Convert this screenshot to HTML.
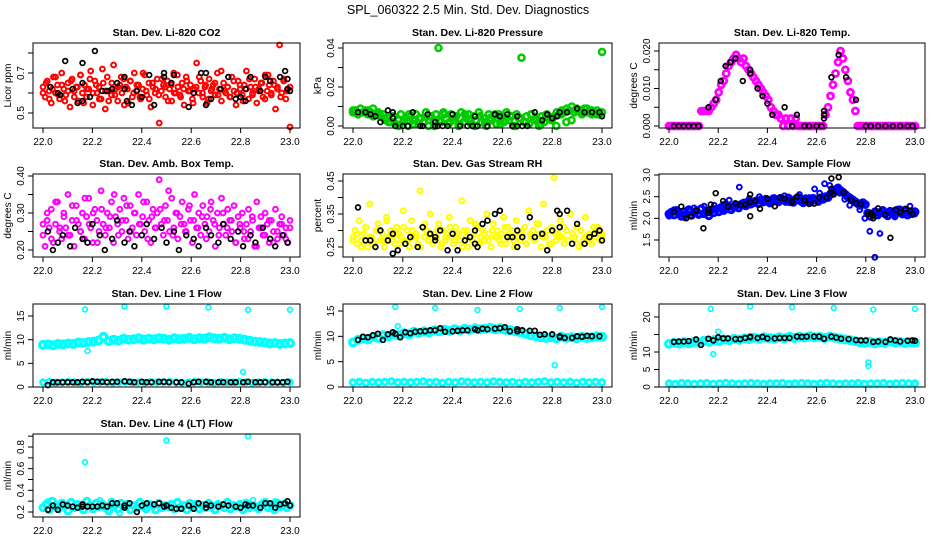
<!DOCTYPE html>
<html><head><meta charset="utf-8"><style>
html,body{margin:0;padding:0;background:#fff;}
svg{display:block;font-family:"Liberation Sans",sans-serif;}
</style></head><body>
<svg id="chart" width="936" height="540" viewBox="0 0 936 540" xmlns="http://www.w3.org/2000/svg">
<rect width="936" height="540" fill="#fff"/>
<text x="468" y="14" text-anchor="middle" font-size="12.5">SPL_060322  2.5 Min. Std. Dev. Diagnostics</text>
</svg>
<script>
// ---- data ----
const xTicks = [22.0, 22.2, 22.4, 22.6, 22.8, 23.0];
const xTickLabels = ["22.0", "22.2", "22.4", "22.6", "22.8", "23.0"];

const co2Red = [0.63,0.58,0.66,0.61,0.55,0.68,0.60,0.64,0.57,0.70,0.62,0.59,0.65,0.53,0.67,0.61,0.63,0.56,0.69,0.60,
0.64,0.58,0.62,0.71,0.54,0.66,0.60,0.63,0.57,0.65,0.52,0.68,0.61,0.59,0.74,0.62,0.56,0.64,0.60,0.67,
0.63,0.55,0.66,0.58,0.70,0.61,0.64,0.57,0.62,0.69,0.59,0.65,0.53,0.63,0.60,0.67,0.45,0.61,0.64,0.58,
0.66,0.62,0.56,0.70,0.60,0.63,0.59,0.65,0.54,0.68,0.61,0.64,0.57,0.62,0.75,0.60,0.66,0.58,0.63,0.55,
0.67,0.61,0.64,0.59,0.70,0.62,0.56,0.65,0.60,0.63,0.58,0.68,0.61,0.54,0.66,0.62,0.59,0.64,0.71,0.57,
0.63,0.60,0.67,0.55,0.62,0.65,0.58,0.69,0.61,0.64,0.59,0.66,0.52,0.63,0.84,0.60,0.67,0.57,0.62,0.43];
const co2Red2 = [0.60,0.65,0.57,0.62,0.68,0.59,0.64,0.56,0.61,0.66,0.58,0.63,0.69,0.55,0.62,0.67,0.60,0.64,0.57,0.72,
0.61,0.56,0.65,0.59,0.63,0.68,0.54,0.62,0.66,0.60,0.64,0.58,0.70,0.61,0.57,0.65,0.62,0.59,0.67,0.63,
0.56,0.64,0.60,0.69,0.58,0.62,0.66,0.61,0.55,0.63,0.68,0.60,0.64,0.57,0.62,0.65,0.59,0.71,0.61,0.63,
0.58,0.66,0.60,0.64,0.56,0.62,0.67,0.59,0.63,0.61,0.65,0.57,0.69,0.60,0.64,0.62,0.58,0.66,0.61,0.63];
const co2BlackX = [22.03,22.06,22.07,22.09,22.12,22.14,22.16,22.16,22.16,22.19,22.21,22.24,22.26,22.28,22.30,22.33,22.33,22.34,22.36,22.38,22.40,22.43,22.45,22.49,22.49,22.52,22.53,22.59,22.61,22.64,22.66,22.66,22.68,22.72,22.75,22.78,22.80,22.82,22.82,22.84,22.88,22.90,22.92,22.96,22.98,22.99,23.00,22.99];
const co2BlackY = [0.63,0.60,0.59,0.76,0.62,0.55,0.56,0.65,0.75,0.58,0.81,0.61,0.61,0.62,0.65,0.68,0.62,0.56,0.54,0.61,0.58,0.69,0.54,0.68,0.70,0.65,0.69,0.53,0.60,0.70,0.70,0.54,0.57,0.62,0.68,0.57,0.58,0.56,0.62,0.68,0.61,0.68,0.66,0.68,0.71,0.67,0.61,0.62];

const presGreen = [0.007,0.008,0.006,0.009,0.007,0.008,0.006,0.007,0.009,0.006,0.007,0.005,0.006,0.003,0.004,0.002,0.005,0.001,0.003,0.006,
0.002,0.004,0.000,0.005,0.003,0.006,0.001,0.004,0.002,0.007,0.000,0.005,0.003,0.006,0.040,0.002,0.007,0.004,0.001,0.006,
0.003,0.005,0.000,0.007,0.002,0.004,0.006,0.001,0.005,0.003,0.007,0.002,0.004,0.000,0.006,0.003,0.005,0.001,0.006,0.004,
0.002,0.007,0.003,0.005,0.000,0.006,0.004,0.035,0.002,0.005,0.001,0.006,0.003,0.004,0.000,0.005,0.002,0.006,0.004,0.003,
0.005,0.007,0.006,0.008,0.007,0.009,0.008,0.010,0.007,0.009,0.008,0.006,0.009,0.007,0.008,0.006,0.007,0.008,0.006,0.038];
const presGreen2 = [0.008,0.006,0.007,0.008,0.005,0.006,0.004,0.002,0.005,0.000,0.003,0.006,0.001,0.004,0.002,0.005,0.000,0.003,0.006,0.002,
0.004,0.001,0.006,0.003,0.000,0.005,0.002,0.004,0.006,0.001,0.003,0.005,0.000,0.004,0.002,0.006,0.003,0.001,0.005,0.004,
0.000,0.006,0.002,0.003,0.008,0.007,0.009,0.008,0.006,0.007];
const presBlackX = [22.02,22.05,22.07,22.09,22.11,22.14,22.16,22.16,22.17,22.20,22.22,22.24,22.27,22.28,22.30,22.33,22.33,22.34,22.36,22.38,22.40,22.43,22.46,22.48,22.49,22.50,22.54,22.57,22.59,22.62,22.64,22.66,22.66,22.68,22.70,22.73,22.76,22.78,22.80,22.82,22.83,22.86,22.90,22.93,22.96,22.99,23.00];
const presBlackY = [0.007,0.007,0.006,0.005,0.002,0.008,0.007,0.004,0.000,0.000,0.000,0.007,0.000,0.000,0.006,0.002,0.000,0.000,0.000,0.000,0.006,0.000,0.000,0.000,0.005,0.000,0.000,0.006,0.005,0.006,0.000,0.005,0.000,0.000,0.000,0.007,0.003,0.006,0.004,0.005,0.007,0.007,0.009,0.007,0.007,0.007,0.005];

const tempMag = [0,0,0,0,0,0,0,0,0,0,0,0,0,
0.004,0.004,0.004,0.004,0.005,
0.006,0.007,0.009,0.011,0.012,
0.014,0.016,0.017,0.018,0.019,0.018,
0.017,0.018,0.016,0.015,0.014,0.013,
0.012,0.011,0.010,0.009,0.008,0.007,
0.005,0.004,0.003,0.003,0.002,
0,0.002,0,0.002,0,0.002,0,0,0,0,0,0,0,0,0,0,0,
0.003,0.005,0.008,0.011,
0.014,0.017,0.020,0.018,
0.015,0.012,0.009,0.007,0.004,
0,0,0,0,0,0,0,0,0,0,0,0,0,0,0,0,0,0,0,0,0,0,0,0];
const tempBlackX = [22.02,22.04,22.06,22.08,22.10,22.12,22.16,22.19,22.21,22.23,22.25,22.27,22.30,22.33,22.33,22.36,22.38,22.40,22.42,22.47,22.52,22.50,22.55,22.57,22.60,22.62,22.63,22.63,22.63,22.66,22.69,22.72,22.76,22.80,22.82,22.85,22.88,22.91,22.94,22.97,22.99];
const tempBlackY = [0,0,0,0,0,0,0.005,0.007,0.012,0.016,0.017,0.018,0.012,0.015,0.014,0.010,0.008,0.006,0.003,0.005,0.003,0,0,0,0,0,0.004,0.002,0.003,0.013,0.019,0.013,0.007,0,0,0,0,0,0,0,0];

const ambMag = [0.24,0.21,0.28,0.26,0.31,0.22,0.27,0.33,0.25,0.23,0.30,0.26,0.35,0.24,0.28,0.21,0.32,0.27,0.25,0.30,
0.23,0.29,0.34,0.26,0.22,0.31,0.28,0.25,0.36,0.27,0.24,0.30,0.26,0.33,0.22,0.29,0.27,0.31,0.25,0.34,
0.28,0.23,0.32,0.26,0.30,0.24,0.35,0.27,0.29,0.25,0.33,0.28,0.22,0.31,0.26,0.30,0.39,0.27,0.24,0.32,
0.28,0.25,0.34,0.26,0.30,0.23,0.29,0.33,0.27,0.25,0.31,0.28,0.22,0.35,0.26,0.30,0.24,0.32,0.27,0.29,
0.25,0.33,0.28,0.21,0.30,0.26,0.34,0.27,0.24,0.31,0.28,0.25,0.32,0.22,0.29,0.26,0.30,0.23,0.27,0.31,
0.25,0.28,0.21,0.33,0.26,0.29,0.24,0.30,0.27,0.22,0.28,0.25,0.31,0.23,0.27,0.29,0.24,0.26,0.22,0.28];
const ambMag2 = [0.27,0.30,0.23,0.33,0.26,0.29,0.24,0.32,0.28,0.25,0.34,0.27,0.30,0.22,0.31,0.26,0.29,0.35,0.24,0.28,
0.32,0.25,0.30,0.27,0.33,0.23,0.29,0.26,0.31,0.28,0.36,0.24,0.30,0.27,0.25,0.32,0.28,0.26,0.29,0.23,
0.31,0.27,0.24,0.30,0.26,0.28,0.22,0.27,0.25,0.23,0.29,0.21,0.26,0.24,0.28,0.22,0.25,0.27,0.23,0.26];
const ambBlackX = [22.02,22.04,22.06,22.08,22.11,22.13,22.16,22.18,22.20,22.23,22.25,22.28,22.30,22.33,22.35,22.37,22.40,22.42,22.45,22.48,22.50,22.53,22.55,22.58,22.61,22.63,22.66,22.68,22.71,22.73,22.76,22.79,22.81,22.84,22.86,22.89,22.92,22.94,22.97,22.99];
const ambBlackY = [0.25,0.20,0.22,0.24,0.21,0.26,0.23,0.22,0.27,0.24,0.20,0.23,0.28,0.22,0.25,0.21,0.24,0.27,0.23,0.26,0.22,0.25,0.20,0.24,0.23,0.21,0.26,0.24,0.22,0.27,0.23,0.25,0.21,0.24,0.22,0.26,0.23,0.21,0.24,0.22];

const rhYellow = [0.28,0.30,0.26,0.33,0.27,0.29,0.31,0.25,0.38,0.28,0.26,0.30,0.32,0.27,0.29,0.25,0.34,0.28,0.30,0.27,
0.26,0.31,0.29,0.28,0.36,0.27,0.30,0.25,0.33,0.28,0.29,0.26,0.42,0.31,0.28,0.30,0.27,0.35,0.26,0.29,
0.28,0.32,0.25,0.30,0.27,0.29,0.34,0.28,0.26,0.31,0.29,0.27,0.39,0.30,0.28,0.25,0.33,0.27,0.29,0.31,
0.26,0.28,0.30,0.27,0.35,0.29,0.25,0.32,0.28,0.30,0.27,0.29,0.34,0.26,0.31,0.28,0.30,0.25,0.33,0.28,
0.27,0.29,0.31,0.26,0.36,0.28,0.30,0.27,0.32,0.29,0.25,0.38,0.28,0.30,0.26,0.31,0.46,0.27,0.29,0.33,
0.28,0.26,0.30,0.27,0.35,0.29,0.28,0.31,0.25,0.30,0.27,0.34,0.28,0.29,0.26,0.31,0.28,0.30,0.27,0.29];
const rhYellow2 = [0.27,0.29,0.25,0.31,0.28,0.26,0.30,0.27,0.33,0.28,0.29,0.26,0.31,0.27,0.30,0.28,0.25,0.32,0.29,0.27,
0.30,0.26,0.28,0.31,0.27,0.29,0.25,0.30,0.28,0.32,0.26,0.29,0.27,0.30,0.28,0.26,0.31,0.29,0.27,0.28,
0.30,0.26,0.29,0.27,0.32,0.28,0.30,0.26,0.29,0.28,0.31,0.27,0.29,0.26,0.30,0.28,0.27,0.29,0.31,0.28];
const rhBlackX = [22.02,22.05,22.07,22.09,22.11,22.14,22.16,22.16,22.18,22.21,22.23,22.26,22.28,22.31,22.33,22.33,22.35,22.38,22.40,22.42,22.45,22.47,22.49,22.49,22.50,22.52,22.54,22.57,22.59,22.62,22.64,22.66,22.66,22.68,22.71,22.73,22.76,22.78,22.80,22.82,22.83,22.83,22.86,22.88,22.90,22.93,22.95,22.97,22.99,23.00,22.99];
const rhBlackY = [0.37,0.27,0.27,0.25,0.30,0.27,0.23,0.29,0.24,0.26,0.28,0.25,0.31,0.29,0.28,0.27,0.30,0.24,0.29,0.24,0.27,0.28,0.30,0.26,0.25,0.32,0.33,0.35,0.36,0.28,0.28,0.30,0.25,0.28,0.34,0.28,0.29,0.24,0.30,0.36,0.31,0.35,0.36,0.26,0.32,0.26,0.28,0.29,0.30,0.27,0.30];

const flowBlue = [2.10,2.14,2.08,2.18,2.12,2.05,2.15,2.10,2.20,2.07,2.13,2.17,2.09,2.22,2.11,2.16,2.06,2.19,2.13,2.21,
2.15,2.25,2.18,2.22,2.28,2.20,2.26,2.30,2.24,2.32,2.35,2.29,2.38,2.33,2.36,2.40,2.34,2.42,2.38,2.44,
2.40,2.36,2.45,2.41,2.38,2.46,2.43,2.39,2.47,2.42,2.37,2.44,2.48,2.40,2.36,2.45,2.41,2.38,2.46,2.43,
2.39,2.47,2.44,2.50,2.48,2.56,2.62,2.66,2.70,2.64,2.60,2.55,2.50,2.46,2.42,2.38,2.34,2.30,2.36,2.32,
2.12,2.05,2.10,2.15,2.08,2.13,2.18,2.11,2.06,2.16,2.12,2.09,2.19,2.14,2.10,2.17,2.08,2.13,2.11,2.15];
const flowBlue2 = [2.05,2.20,2.12,2.02,2.16,2.24,2.10,2.28,2.14,2.30,2.22,2.33,2.42,2.30,2.72,2.38,2.46,2.35,2.50,2.44,
2.33,2.48,2.40,2.52,2.36,2.45,2.55,2.40,2.48,2.68,2.58,2.80,2.76,2.68,2.58,2.44,2.30,2.40,2.20,2.00,
1.70,1.10,1.65,2.08,2.18,2.03,2.22,2.12,2.28,2.10];
const flowBlackX = [22.02,22.05,22.07,22.09,22.11,22.14,22.16,22.16,22.17,22.19,22.22,22.24,22.27,22.29,22.31,22.33,22.33,22.33,22.35,22.37,22.40,22.43,22.45,22.47,22.50,22.50,22.52,22.55,22.57,22.59,22.61,22.64,22.66,22.66,22.66,22.67,22.69,22.71,22.74,22.76,22.78,22.81,22.82,22.83,22.83,22.85,22.88,22.90,22.92,22.94,22.96,22.98,22.99];
const flowBlackY = [2.15,2.27,2.00,2.05,2.18,1.77,2.12,2.20,2.32,2.58,2.40,2.27,2.35,2.30,2.32,2.38,2.55,2.05,2.40,2.22,2.45,2.28,2.48,2.45,2.40,2.38,2.50,2.42,2.33,2.34,2.48,2.48,2.60,2.68,2.92,2.55,2.95,2.60,2.43,2.35,2.33,2.10,2.12,2.00,2.06,2.23,2.08,1.55,2.20,2.14,2.22,2.18,2.10];

const line1High = [8.9,9.0,8.8,9.1,9.0,9.2,9.1,9.4,9.3,9.5,9.6,9.8,10.6,9.7,10.0,9.8,10.2,10.0,10.1,10.3,
10.0,10.2,10.1,10.3,10.2,10.0,10.3,10.1,10.2,10.4,10.1,10.3,10.2,10.5,10.3,10.2,10.4,10.1,10.3,10.2,
10.0,9.8,9.6,9.5,9.4,9.2,9.3,9.1,9.2,9.3];
const line1Low = [1.0,1.1,0.9,1.0,1.1,1.0,0.9,1.1,1.0,1.0,1.1,0.9,1.0,1.1,1.0,1.0,0.9,1.1,1.0,1.0,
1.1,1.0,0.9,1.0,1.1,1.0,1.0,0.9,1.1,1.0,1.0,1.1,1.0,0.9,1.0,1.1,1.0,1.0,0.9,1.0];
const line1OutX = [22.17,22.18,22.33,22.50,22.67,22.83,22.81,23.00];
const line1OutY = [16.4,7.6,17.0,17.0,16.8,16.3,3.2,16.3];
const line1BlackX = [22.02,22.04,22.06,22.08,22.10,22.12,22.14,22.16,22.18,22.20,22.22,22.24,22.26,22.28,22.30,22.33,22.35,22.37,22.40,22.42,22.44,22.47,22.49,22.51,22.54,22.56,22.59,22.61,22.63,22.66,22.68,22.71,22.73,22.76,22.78,22.81,22.83,22.86,22.88,22.90,22.93,22.95,22.97,22.99];
const line1BlackY = [0.4,1.0,1.0,1.0,1.0,1.0,1.0,1.1,1.0,1.2,1.1,1.1,1.0,1.1,1.1,1.2,1.1,1.0,1.1,1.0,1.0,1.1,1.1,1.0,1.0,1.0,0.7,1.0,1.1,1.1,1.0,1.0,1.0,1.0,1.0,1.0,1.1,1.0,1.0,1.0,1.0,1.0,1.0,1.1];

const line2High = [8.8,9.3,9.6,9.4,9.9,9.7,10.2,10.0,10.4,10.2,10.6,10.4,10.9,10.7,11.0,10.8,11.2,11.0,11.3,11.1,
11.4,11.2,11.5,11.3,11.6,11.4,11.5,11.7,11.4,11.6,11.3,11.2,11.0,10.8,10.5,10.2,10.0,9.8,9.7,9.8,
9.6,9.9,9.7,9.8,9.6,9.9,9.7,9.8,10.0,9.9];
const line2Low = [0.9,1.0,0.8,1.0,0.9,1.0,1.1,0.9,1.0,0.9,1.0,1.1,0.9,1.0,0.8,1.0,0.9,1.1,1.0,0.9,
1.0,0.9,1.1,1.0,0.9,1.0,0.8,1.0,0.9,1.0,1.1,0.9,1.0,0.9,1.0,0.8,1.0,0.9,1.0,0.9];
const line2OutX = [22.17,22.18,22.33,22.50,22.67,22.81,22.83,23.00];
const line2OutY = [15.8,12.0,15.6,15.2,15.4,4.3,15.6,15.8];
const line2BlackX = [22.02,22.04,22.06,22.08,22.10,22.12,22.14,22.16,22.17,22.19,22.21,22.23,22.25,22.27,22.29,22.31,22.33,22.35,22.37,22.40,22.42,22.44,22.46,22.49,22.50,22.52,22.54,22.57,22.59,22.61,22.63,22.66,22.66,22.68,22.71,22.73,22.75,22.77,22.80,22.83,22.83,22.85,22.88,22.90,22.92,22.94,22.96,22.99];
const line2BlackY = [9.3,9.9,9.8,10.2,10.5,9.3,10.4,10.8,10.5,9.8,10.8,10.6,10.9,11.0,11.0,11.2,11.2,11.6,10.9,11.0,11.1,11.2,11.2,11.4,11.2,11.5,11.4,11.5,11.6,11.8,11.0,11.4,11.0,11.2,11.1,11.1,10.3,10.4,10.4,9.8,10.0,9.7,9.7,10.0,9.9,10.1,10.0,10.0];

const line3High = [12.3,12.6,12.4,12.8,12.5,12.9,12.7,13.2,12.9,13.4,13.1,13.6,13.3,13.8,13.5,13.9,13.7,14.1,13.8,14.2,
14.0,13.8,14.2,13.9,14.3,14.0,14.4,14.1,14.5,14.2,14.3,14.0,14.4,14.1,13.8,13.6,13.4,13.1,12.8,12.6,
12.9,12.5,12.8,12.6,13.0,12.7,12.9,12.6,12.8,12.7];
const line3Low = [1.0,0.9,1.1,1.0,0.9,1.0,1.1,0.9,1.0,1.1,1.0,0.9,1.0,1.1,1.0,0.9,1.0,1.0,1.1,0.9,
1.0,1.1,1.0,0.9,1.0,1.1,1.0,0.9,1.0,1.0,1.1,0.9,1.0,1.0,1.1,0.9,1.0,1.1,1.0,1.0];
const line3OutX = [22.17,22.18,22.20,22.33,22.50,22.67,22.81,22.81,22.83,23.00];
const line3OutY = [22.3,9.4,15.8,23.0,22.8,22.6,6.0,7.0,22.1,22.3];
const line3BlackX = [22.02,22.04,22.06,22.08,22.11,22.13,22.16,22.18,22.20,22.22,22.24,22.27,22.29,22.31,22.33,22.33,22.36,22.38,22.40,22.43,22.45,22.47,22.49,22.52,22.54,22.56,22.59,22.61,22.63,22.66,22.68,22.70,22.73,22.76,22.78,22.80,22.83,22.85,22.88,22.90,22.92,22.94,22.97,22.99,23.00];
const line3BlackY = [12.9,13.0,13.0,13.1,13.6,12.0,13.8,13.3,14.2,13.9,13.9,13.7,13.7,14.0,14.4,14.2,14.0,14.3,13.9,13.9,14.0,14.0,14.0,14.4,14.3,14.4,14.4,14.4,13.8,14.4,14.1,13.8,13.7,13.4,13.3,13.3,12.9,13.0,12.9,13.6,13.3,13.0,13.2,13.3,13.2];

const line4Cyan = [0.24,0.27,0.22,0.30,0.25,0.23,0.28,0.26,0.21,0.29,0.24,0.27,0.25,0.22,0.30,0.26,0.23,0.28,0.25,0.27,
0.24,0.21,0.29,0.26,0.23,0.28,0.25,0.27,0.22,0.26,0.24,0.29,0.25,0.23,0.27,0.26,0.22,0.28,0.24,0.26,
0.25,0.27,0.23,0.29,0.24,0.26,0.22,0.28,0.25,0.27,0.23,0.26,0.24,0.28,0.25,0.22,0.27,0.26,0.24,0.29,
0.23,0.26,0.25,0.27,0.22,0.28,0.24,0.26,0.25,0.23,0.27,0.29,0.24,0.26,0.22,0.28,0.25,0.27,0.24,0.26];
const line4OutX = [22.02,22.17,22.23,22.31,22.50,22.83,22.85,22.94];
const line4OutY = [0.30,0.66,0.31,0.19,0.86,0.90,0.31,0.30];
const line4BlackX = [22.02,22.04,22.06,22.08,22.10,22.12,22.14,22.16,22.16,22.18,22.20,22.22,22.24,22.26,22.28,22.30,22.33,22.33,22.35,22.38,22.40,22.42,22.45,22.47,22.49,22.50,22.52,22.54,22.56,22.59,22.61,22.63,22.66,22.66,22.68,22.71,22.73,22.75,22.78,22.80,22.82,22.83,22.85,22.88,22.90,22.92,22.94,22.96,22.98,22.99,23.00];
const line4BlackY = [0.22,0.26,0.22,0.27,0.26,0.25,0.24,0.27,0.25,0.25,0.25,0.25,0.26,0.25,0.28,0.28,0.24,0.26,0.28,0.20,0.26,0.28,0.27,0.28,0.25,0.26,0.24,0.23,0.23,0.26,0.23,0.28,0.24,0.27,0.26,0.25,0.27,0.26,0.25,0.24,0.27,0.26,0.26,0.24,0.28,0.28,0.24,0.27,0.28,0.30,0.26];

// ---- drawing ----
const NS = "http://www.w3.org/2000/svg";
const svg = document.getElementById("chart");
function mk(tag, attrs, parent) {
  const e = document.createElementNS(NS, tag);
  for (const k in attrs) e.setAttribute(k, attrs[k]);
  (parent || svg).appendChild(e);
  return e;
}
function evenX(n) { const a = []; for (let i = 0; i < n; i++) a.push(22 + i / (n - 1)); return a; }

const panels = [
 {id:"co2", title:"Stan. Dev. Li-820 CO2", ylab:"Licor ppm", L:33, T:43, W:267, H:85, yA:0.7, pA:73, yB:0.5, pB:113,
  yt:[0.5,0.6,0.7,0.8], yl:["0.5","","0.7",""],
  series:[{ys:co2Red,c:"#ff0000",sw:2},{ys:co2Red2,c:"#ff0000",sw:2},{xs:co2BlackX,ys:co2BlackY,c:"#000"}]},
 {id:"pressure", title:"Stan. Dev. Li-820 Pressure", ylab:"kPa", L:343, T:43, W:269, H:85, yA:0.04, pA:48, yB:0, pB:126,
  yt:[0,0.01,0.02,0.03,0.04], yl:["0.00","","0.02","","0.04"],
  series:[{ys:presGreen,c:"#00cc00",r:3,sw:2.6},{ys:presGreen2,c:"#00cc00",r:3,sw:2.6},{xs:presBlackX,ys:presBlackY,c:"#000"}]},
 {id:"temp", title:"Stan. Dev. Li-820 Temp.", ylab:"degrees C", L:659, T:43, W:266, H:85, yA:0.02, pA:51, yB:0, pB:126,
  yt:[0,0.005,0.01,0.015,0.02], yl:["0.000","","0.010","","0.020"],
  series:[{ys:tempMag,c:"#ff00ff",r:3,sw:2.8},{xs:tempBlackX,ys:tempBlackY,c:"#000"}]},
 {id:"ambtemp", title:"Stan. Dev. Amb. Box Temp.", ylab:"degrees C", L:33, T:174, W:267, H:83, yA:0.4, pA:176, yB:0.2, pB:250,
  yt:[0.2,0.25,0.3,0.35,0.4], yl:["0.20","","0.30","","0.40"],
  series:[{ys:ambMag,c:"#ff00ff",sw:2},{ys:ambMag2,c:"#ff00ff",sw:2},{xs:ambBlackX,ys:ambBlackY,c:"#000"}]},
 {id:"rh", title:"Stan. Dev. Gas Stream RH", ylab:"percent", L:343, T:174, W:269, H:83, yA:0.45, pA:181, yB:0.25, pB:247,
  yt:[0.25,0.3,0.35,0.4,0.45], yl:["0.25","","0.35","","0.45"],
  series:[{ys:rhYellow,c:"#ffff00",sw:2.2},{ys:rhYellow2,c:"#ffff00",sw:2.2},{xs:rhBlackX,ys:rhBlackY,c:"#000"}]},
 {id:"sampleflow", title:"Stan. Dev. Sample Flow", ylab:"ml/min", L:659, T:174, W:266, H:83, yA:3.0, pA:175, yB:1.5, pB:240,
  yt:[1.5,2.0,2.5,3.0], yl:["1.5","2.0","2.5","3.0"],
  series:[{ys:flowBlue,c:"#0000ff",r:3,sw:3},{ys:flowBlue2,c:"#0000ff",sw:2},{xs:flowBlackX,ys:flowBlackY,c:"#000"}]},
 {id:"line1", title:"Stan. Dev. Line 1 Flow", ylab:"ml/min", L:33, T:304, W:267, H:83, yA:15, pA:316, yB:0, pB:387,
  yt:[0,5,10,15], yl:["0","5","10","15"],
  series:[{ys:line1High,c:"#00ffff",r:3.3,sw:3.4},{ys:line1Low,c:"#00ffff",r:2.6,sw:2.6},{xs:line1OutX,ys:line1OutY,c:"#00ffff"},{xs:line1BlackX,ys:line1BlackY,c:"#000"}]},
 {id:"line2", title:"Stan. Dev. Line 2 Flow", ylab:"ml/min", L:343, T:304, W:269, H:83, yA:15, pA:311, yB:0, pB:387,
  yt:[0,5,10,15], yl:["0","5","10","15"],
  series:[{ys:line2High,c:"#00ffff",r:3.3,sw:3.4},{ys:line2Low,c:"#00ffff",r:2.8,sw:2.8},{xs:line2OutX,ys:line2OutY,c:"#00ffff"},{xs:line2BlackX,ys:line2BlackY,c:"#000"}]},
 {id:"line3", title:"Stan. Dev. Line 3 Flow", ylab:"ml/min", L:659, T:304, W:266, H:83, yA:20, pA:317, yB:0, pB:387,
  yt:[0,5,10,15,20], yl:["0","5","10","","20"],
  series:[{ys:line3High,c:"#00ffff",r:3.3,sw:3.4},{ys:line3Low,c:"#00ffff",r:2.8,sw:2.8},{xs:line3OutX,ys:line3OutY,c:"#00ffff"},{xs:line3BlackX,ys:line3BlackY,c:"#000"}]},
 {id:"line4", title:"Stan. Dev. Line 4 (LT) Flow", ylab:"ml/min", L:33, T:434, W:267, H:83, yA:0.8, pA:447, yB:0.2, pB:512,
  yt:[0.2,0.3,0.4,0.5,0.6,0.7,0.8,0.9], yl:["0.2","","0.4","","0.6","","0.8",""],
  series:[{ys:line4Cyan,c:"#00ffff",r:3,sw:3},{xs:line4OutX,ys:line4OutY,c:"#00ffff"},{xs:line4BlackX,ys:line4BlackY,c:"#000"}]}
];

panels.forEach(p => {
  const g = mk("g", {});
  
  
  const xs = v => p.L + 10 + (v - 22) * (p.W - 20);
  const ys = v => p.pB + (v - p.yB) * (p.pA - p.pB) / (p.yA - p.yB);
  const B = p.T + p.H;
  const t = mk("text", {x: p.L + p.W / 2, y: p.T - 7, "text-anchor": "middle", "font-size": "10.5", "font-weight": "bold"}, g);
  t.textContent = p.title;
  
  
  const pg = mk("g", {fill: "none"}, g);
  
  
  p.series.forEach(s => {
    const xv = s.xs || evenX(s.ys.length);
    s.ys.forEach((v, i) => {
      const c = mk("circle", {cx: xs(xv[i]).toFixed(1), cy: ys(v).toFixed(1), r: s.r || 2.4, stroke: s.c, "stroke-width": s.sw || 1.7}, pg);
      
      
    });
  });
  const box = mk("rect", {x: p.L, y: p.T, width: p.W, height: p.H, fill: "none", stroke: "#000", "stroke-width": "1"}, g);
  
  
  const xa = mk("g", {"font-size": "10"}, g);
  
  
  mk("line", {x1: xs(xTicks[0]), x2: xs(xTicks[xTicks.length - 1]), y1: B, y2: B, stroke: "#000"}, xa);
  xTicks.forEach((v, i) => {
    mk("line", {x1: xs(v), x2: xs(v), y1: B, y2: B + 5, stroke: "#000"}, xa);
    const l = mk("text", {x: xs(v), y: B + 17, "text-anchor": "middle"}, xa);
    l.textContent = xTickLabels[i];
    
    
  });
  const ya = mk("g", {"font-size": "10"}, g);
  
  
  mk("line", {x1: p.L, x2: p.L, y1: ys(p.yt[0]), y2: ys(p.yt[p.yt.length - 1]), stroke: "#000"}, ya);
  p.yt.forEach((v, i) => {
    const y = ys(v);
    mk("line", {x1: p.L - 5, x2: p.L, y1: y, y2: y, stroke: "#000"}, ya);
    if (p.yl[i]) {
      const l = mk("text", {x: 0, y: 0, "text-anchor": "middle", transform: `translate(${p.L - 9},${y}) rotate(-90)`}, ya);
      l.textContent = p.yl[i];
      
      
    }
  });
  const yt = mk("text", {x: 0, y: 0, "text-anchor": "middle", "font-size": "10", transform: `translate(${p.L - 22},${p.T + p.H / 2}) rotate(-90)`}, g);
  yt.textContent = p.ylab;
  
  
});
</script>
</body></html>
